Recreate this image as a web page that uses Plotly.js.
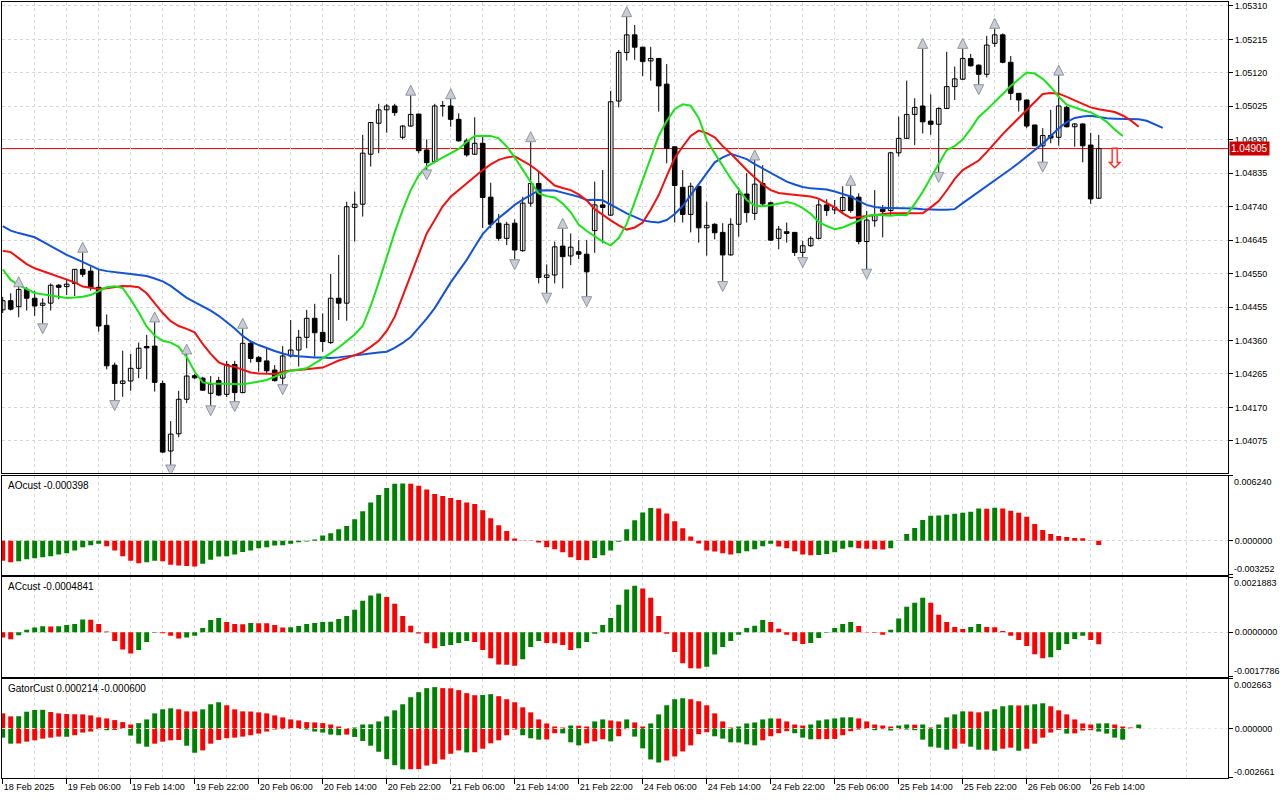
<!DOCTYPE html>
<html>
<head>
<meta charset="utf-8">
<script src="https://cdn.plot.ly/plotly-3.0.1.min.js"></script>
<style>html,body{margin:0;padding:0;background:#fff;}#chart{width:1280px;height:800px;}</style>
</head>
<body>
<div id="chart"></div>
<script>
// ---------- DATA (H1 bars) ----------
const timeLabels = ['18 Feb 2025','19 Feb 06:00','19 Feb 14:00','19 Feb 22:00','20 Feb 06:00','20 Feb 14:00','20 Feb 22:00','21 Feb 06:00','21 Feb 14:00','21 Feb 22:00','24 Feb 06:00','24 Feb 14:00','24 Feb 22:00','25 Feb 06:00','25 Feb 14:00','25 Feb 22:00','26 Feb 06:00','26 Feb 14:00'];
const timeLabelBars = [0,8,16,24,32,40,48,56,64,72,80,88,96,104,112,120,128,136];
const priceTicks = [1.05310,1.05215,1.05120,1.05025,1.04930,1.04835,1.04740,1.04645,1.04550,1.04455,1.04360,1.04265,1.04170,1.04075];

const open = [
1.04447,1.04473,1.04456,1.04505,1.04480,1.04460,1.04466,1.04517,1.04513,1.04522,
1.04562,1.04557,1.04511,1.04403,1.04290,1.04238,1.04245,1.04281,1.04343,1.04344,
1.04238,1.04046,1.04095,1.04193,1.04260,1.04253,1.04210,1.04246,1.04207,1.04292,
1.04212,1.04352,1.04312,1.04302,1.04276,1.04253,1.04316,1.04333,1.04369,1.04423,
1.04383,1.04354,1.04480,1.04466,1.04738,1.04747,1.04889,1.04977,1.05015,1.05026,
1.04937,1.04969,1.05003,1.04901,1.04868,1.05027,1.05026,1.04988,1.04927,1.04889,
1.04920,1.04767,1.04693,1.04650,1.04693,1.04615,1.04750,1.04806,1.04539,1.04546,
1.04628,1.04600,1.04612,1.04605,1.04672,1.04745,1.04716,1.05040,1.05178,1.05228,
1.05193,1.05154,1.05161,1.05088,1.04910,1.04795,1.04718,1.04798,1.04680,1.04690,
1.04667,1.04603,1.04690,1.04776,1.04721,1.04806,1.04751,1.04650,1.04669,1.04667,
1.04610,1.04629,1.04650,1.04745,1.04731,1.04729,1.04770,1.04767,1.04641,1.04700,
1.04733,1.04729,1.04893,1.04934,1.05002,1.05026,1.04983,1.04974,1.05019,1.05081,
1.05102,1.05161,1.05142,1.05116,1.05204,1.05228,1.05150,1.05062,1.05043,1.04972,
1.04913,1.04942,1.04937,1.05022,1.04967,1.04975,1.04915,1.04764];
const high = [
1.04484,1.04494,1.04513,1.04511,1.04501,1.04480,1.04522,1.04520,1.04532,1.04563,
1.04611,1.04570,1.04563,1.04434,1.04297,1.04331,1.04322,1.04354,1.04376,1.04413,
1.04246,1.04131,1.04217,1.04322,1.04265,1.04257,1.04259,1.04257,1.04302,1.04302,
1.04395,1.04359,1.04316,1.04338,1.04290,1.04344,1.04418,1.04390,1.04447,1.04464,
1.04437,1.04549,1.04603,1.04754,1.04783,1.04944,1.04980,1.05032,1.05032,1.05032,
1.04972,1.05057,1.05004,1.04931,1.05032,1.05040,1.05047,1.05005,1.04934,1.04994,
1.04941,1.04808,1.04719,1.04697,1.04704,1.04768,1.04925,1.04839,1.04576,1.04641,
1.04679,1.04664,1.04645,1.04645,1.04811,1.04844,1.05069,1.05185,1.05280,1.05256,
1.05193,1.05194,1.05161,1.05145,1.04910,1.04844,1.04808,1.04799,1.04754,1.04693,
1.04693,1.04707,1.04795,1.04835,1.04873,1.04858,1.04754,1.04685,1.04695,1.04667,
1.04643,1.04656,1.04761,1.04761,1.04759,1.04798,1.04801,1.04778,1.04728,1.04787,
1.04745,1.04896,1.04996,1.05098,1.05048,1.05190,1.05059,1.05022,1.05180,1.05138,
1.05190,1.05174,1.05144,1.05225,1.05247,1.05232,1.05168,1.05062,1.05043,1.04972,
1.04963,1.05015,1.05114,1.05026,1.04977,1.04977,1.04950,1.04944];
const low = [
1.04438,1.04445,1.04426,1.04445,1.04430,1.04407,1.04445,1.04477,1.04489,1.04486,
1.04540,1.04501,1.04385,1.04278,1.04189,1.04200,1.04217,1.04253,1.04250,1.04215,
1.04041,1.04006,1.04085,1.04182,1.04250,1.04217,1.04174,1.04202,1.04199,1.04186,
1.04210,1.04297,1.04271,1.04265,1.04243,1.04234,1.04312,1.04286,1.04338,1.04314,
1.04328,1.04350,1.04418,1.04416,1.04641,1.04712,1.04854,1.04892,1.04950,1.04998,
1.04931,1.04967,1.04892,1.04844,1.04863,1.04996,1.04967,1.04925,1.04882,1.04887,
1.04679,1.04679,1.04643,1.04631,1.04589,1.04612,1.04740,1.04522,1.04494,1.04522,
1.04508,1.04574,1.04591,1.04484,1.04609,1.04636,1.04714,1.05022,1.05155,1.05157,
1.05111,1.05098,1.05010,1.04863,1.04695,1.04695,1.04667,1.04638,1.04601,1.04647,
1.04527,1.04601,1.04655,1.04695,1.04702,1.04740,1.04643,1.04619,1.04638,1.04600,
1.04595,1.04626,1.04647,1.04714,1.04719,1.04721,1.04723,1.04633,1.04562,1.04683,
1.04653,1.04716,1.04882,1.04932,1.04915,1.04948,1.04944,1.04837,1.05017,1.05043,
1.05100,1.05138,1.05086,1.05107,1.05194,1.05147,1.05043,1.05010,1.04963,1.04912,
1.04866,1.04920,1.04913,1.04965,1.04910,1.04866,1.04748,1.04762];
const close = [
1.04473,1.04449,1.04505,1.04480,1.04458,1.04466,1.04517,1.04511,1.04520,1.04562,
1.04548,1.04511,1.04401,1.04288,1.04238,1.04245,1.04281,1.04338,1.04339,1.04241,
1.04043,1.04094,1.04193,1.04259,1.04254,1.04219,1.04236,1.04205,1.04292,1.04212,
1.04352,1.04309,1.04300,1.04274,1.04246,1.04316,1.04333,1.04369,1.04423,1.04382,
1.04357,1.04480,1.04466,1.04740,1.04747,1.04892,1.04979,1.05015,1.05026,1.05007,
1.04969,1.05002,1.04899,1.04865,1.05026,1.05026,1.04988,1.04927,1.04887,1.04920,
1.04766,1.04690,1.04650,1.04690,1.04617,1.04750,1.04806,1.04539,1.04546,1.04626,
1.04598,1.04625,1.04605,1.04555,1.04745,1.04738,1.05038,1.05178,1.05228,1.05193,
1.05152,1.05161,1.05083,1.04906,1.04800,1.04718,1.04798,1.04680,1.04687,1.04666,
1.04603,1.04690,1.04776,1.04723,1.04804,1.04748,1.04645,1.04676,1.04664,1.04610,
1.04629,1.04650,1.04745,1.04729,1.04738,1.04766,1.04729,1.04641,1.04702,1.04716,
1.04726,1.04893,1.04934,1.05002,1.05022,1.04981,1.04974,1.05019,1.05081,1.05103,
1.05161,1.05140,1.05116,1.05199,1.05228,1.05150,1.05062,1.05043,1.04969,1.04913,
1.04942,1.04935,1.05026,1.04967,1.04975,1.04913,1.04762,1.04905];

// Alligator (already shifted forward: jaw +8, teeth +5, lips +3)
const jaw = [
1.04685,1.04672,1.04665,1.04660,1.04653,1.04641,1.04628,1.04616,1.04603,1.04593,
1.04582,1.04572,1.04562,1.04557,1.04555,1.04552,1.04549,1.04546,1.04543,1.04536,
1.04528,1.04515,1.04498,1.04481,1.04469,1.04457,1.04445,1.04430,1.04413,1.04394,
1.04373,1.04357,1.04347,1.04338,1.04330,1.04323,1.04317,1.04315,1.04313,1.04312,
1.04312,1.04310,1.04312,1.04315,1.04319,1.04322,1.04325,1.04326,1.04328,1.04339,
1.04353,1.04370,1.04396,1.04422,1.04452,1.04489,1.04525,1.04557,1.04589,1.04626,
1.04662,1.04687,1.04708,1.04726,1.04745,1.04760,1.04773,1.04786,1.04787,1.04786,
1.04780,1.04775,1.04768,1.04759,1.04760,1.04758,1.04746,1.04732,1.04721,1.04711,
1.04701,1.04697,1.04695,1.04702,1.04719,1.04742,1.04773,1.04806,1.04837,1.04866,
1.04880,1.04890,1.04883,1.04875,1.04861,1.04849,1.04836,1.04823,1.04811,1.04803,
1.04796,1.04792,1.04790,1.04789,1.04783,1.04776,1.04769,1.04756,1.04745,1.04739,
1.04736,1.04736,1.04736,1.04736,1.04735,1.04733,1.04731,1.04731,1.04731,1.04733,
1.04750,1.04766,1.04782,1.04797,1.04813,1.04829,1.04847,1.04864,1.04882,1.04901,
1.04919,1.04941,1.04963,1.04980,1.04992,1.04996,1.04998,1.04995,1.04991,1.04990,
1.04990,1.04989,1.04988,1.04984,1.04975,1.04964];
const teeth = [
1.04615,1.04611,1.04594,1.04577,1.04565,1.04557,1.04550,1.04542,1.04534,1.04525,
1.04513,1.04509,1.04506,1.04508,1.04512,1.04515,1.04514,1.04511,1.04494,1.04466,
1.04438,1.04415,1.04401,1.04393,1.04383,1.04350,1.04322,1.04298,1.04289,1.04285,
1.04276,1.04269,1.04266,1.04265,1.04265,1.04271,1.04275,1.04276,1.04278,1.04280,
1.04283,1.04293,1.04303,1.04310,1.04319,1.04327,1.04342,1.04359,1.04387,1.04427,
1.04486,1.04545,1.04604,1.04664,1.04702,1.04741,1.04768,1.04787,1.04806,1.04826,
1.04844,1.04860,1.04873,1.04880,1.04883,1.04870,1.04857,1.04840,1.04819,1.04800,
1.04793,1.04787,1.04775,1.04758,1.04733,1.04716,1.04701,1.04687,1.04675,1.04681,
1.04695,1.04731,1.04773,1.04827,1.04878,1.04911,1.04941,1.04956,1.04949,1.04937,
1.04912,1.04891,1.04867,1.04844,1.04823,1.04803,1.04787,1.04779,1.04776,1.04773,
1.04772,1.04769,1.04763,1.04750,1.04738,1.04721,1.04708,1.04711,1.04714,1.04716,
1.04720,1.04721,1.04721,1.04721,1.04721,1.04721,1.04738,1.04756,1.04786,1.04819,
1.04844,1.04857,1.04871,1.04895,1.04922,1.04946,1.04969,1.04992,1.05015,1.05037,
1.05060,1.05063,1.05061,1.05052,1.05042,1.05030,1.05022,1.05017,1.05013,1.05009,
1.04999,1.04985,1.04967];
const lips = [
1.04562,1.04532,1.04517,1.04505,1.04495,1.04491,1.04487,1.04484,1.04481,1.04482,
1.04484,1.04489,1.04501,1.04511,1.04514,1.04509,1.04476,1.04440,1.04399,1.04374,
1.04359,1.04354,1.04342,1.04313,1.04271,1.04241,1.04238,1.04238,1.04238,1.04237,
1.04236,1.04239,1.04243,1.04248,1.04257,1.04267,1.04274,1.04278,1.04281,1.04295,
1.04309,1.04324,1.04340,1.04359,1.04377,1.04401,1.04458,1.04525,1.04598,1.04667,
1.04731,1.04787,1.04829,1.04854,1.04867,1.04880,1.04893,1.04904,1.04924,1.04941,
1.04941,1.04941,1.04934,1.04911,1.04880,1.04844,1.04810,1.04778,1.04770,1.04766,
1.04749,1.04724,1.04689,1.04671,1.04655,1.04641,1.04630,1.04651,1.04691,1.04753,
1.04819,1.04881,1.04941,1.04983,1.05017,1.05031,1.05027,1.04992,1.04929,1.04892,
1.04854,1.04820,1.04789,1.04759,1.04743,1.04741,1.04744,1.04748,1.04753,1.04748,
1.04736,1.04720,1.04697,1.04685,1.04676,1.04681,1.04690,1.04700,1.04713,1.04717,
1.04716,1.04714,1.04717,1.04716,1.04748,1.04782,1.04822,1.04861,1.04901,1.04912,
1.04931,1.04961,1.04995,1.05015,1.05039,1.05060,1.05083,1.05103,1.05121,1.05118,
1.05103,1.05080,1.05052,1.05030,1.05021,1.05014,1.05008,1.04996,1.04981,1.04959,
1.04941];

const fractalUpBars = [2,10,19,23,30,51,56,66,70,78,94,106,115,120,124,132];
const fractalDownBars = [5,14,21,26,29,35,53,64,68,73,90,100,108,117,122,130];
const signalBars = [139];
const signalPrices = [1.04870];

const ao = [
-0.001906,-0.002067,-0.001970,-0.001777,-0.001680,-0.001583,-0.001486,-0.001324,-0.001195,-0.000937,
-0.000614,-0.000420,-0.000291,-0.000517,-0.000937,-0.001486,-0.001906,-0.002164,-0.002067,-0.001906,
-0.001970,-0.002293,-0.002358,-0.002423,-0.002455,-0.002196,-0.001809,-0.001518,-0.001486,-0.001324,
-0.001066,-0.000937,-0.000711,-0.000614,-0.000452,-0.000420,-0.000291,-0.000129,-0.000065,0.000129,
0.000517,0.000711,0.001098,0.001421,0.002067,0.002842,0.003682,0.004393,0.005071,0.005459,
0.005491,0.005459,0.005265,0.004910,0.004490,0.004296,0.004102,0.003908,0.003682,0.003521,
0.002939,0.002164,0.001486,0.000937,0.000226,0.000032,-0.000032,-0.000162,-0.000614,-0.000808,
-0.001098,-0.001583,-0.001841,-0.001873,-0.001647,-0.001389,-0.000937,-0.000097,0.001098,0.001970,
0.002713,0.003133,0.003101,0.002616,0.001873,0.001195,0.000420,-0.000258,-0.000937,-0.001034,
-0.001195,-0.001324,-0.001195,-0.001001,-0.000808,-0.000517,-0.000291,-0.000549,-0.000711,-0.001001,
-0.001324,-0.001389,-0.001357,-0.001260,-0.001098,-0.000775,-0.000614,-0.000711,-0.000775,-0.000808,
-0.000824,-0.000711,-0.000032,0.000646,0.001227,0.002003,0.002390,0.002423,0.002487,0.002584,
0.002681,0.002778,0.003101,0.003069,0.003165,0.003101,0.002875,0.002681,0.002293,0.001615,
0.001034,0.000646,0.000452,0.000355,0.000258,0.000242,-0.000016,-0.000398];
const ac = [
-0.000216,-0.000284,-0.000122,0.000095,0.000189,0.000230,0.000223,0.000236,0.000284,0.000324,
0.000500,0.000493,0.000324,0.000027,-0.000351,-0.000689,-0.000851,-0.000716,-0.000392,-0.000027,
-0.000041,-0.000149,-0.000257,-0.000216,-0.000149,0.000162,0.000486,0.000567,0.000405,0.000324,
0.000317,0.000365,0.000358,0.000351,0.000284,0.000189,0.000196,0.000243,0.000324,0.000365,
0.000405,0.000412,0.000527,0.000648,0.000891,0.001256,0.001458,0.001539,0.001404,0.001134,
0.000648,0.000257,-0.000054,-0.000446,-0.000648,-0.000554,-0.000513,-0.000432,-0.000351,-0.000392,
-0.000716,-0.001040,-0.001296,-0.001303,-0.001337,-0.001080,-0.000594,-0.000351,-0.000432,-0.000439,
-0.000513,-0.000716,-0.000648,-0.000392,-0.000068,0.000284,0.000567,0.001094,0.001701,0.001850,
0.001742,0.001377,0.000648,-0.000068,-0.000797,-0.001242,-0.001445,-0.001451,-0.001377,-0.000891,
-0.000594,-0.000351,-0.000108,0.000162,0.000257,0.000486,0.000405,0.000135,-0.000108,-0.000351,
-0.000473,-0.000432,-0.000230,-0.000027,0.000162,0.000324,0.000405,0.000243,-0.000014,-0.000027,
-0.000108,0.000095,0.000540,0.001013,0.001175,0.001377,0.001175,0.000689,0.000405,0.000203,
0.000122,0.000203,0.000324,0.000203,0.000196,0.000041,-0.000149,-0.000311,-0.000554,-0.000878,
-0.001040,-0.000999,-0.000716,-0.000473,-0.000270,-0.000149,-0.000311,-0.0004841];
const gatorUpper = [
0.000815,0.000652,0.000661,0.000905,0.000996,0.001005,0.000887,0.000815,0.000778,0.000769,
0.000760,0.000706,0.000597,0.000543,0.000453,0.000344,0.000217,0.000290,0.000489,0.000815,
0.001032,0.001086,0.001032,0.000923,0.000914,0.001032,0.001303,0.001412,0.001249,0.001032,
0.000923,0.000914,0.000869,0.000815,0.000706,0.000597,0.000489,0.000434,0.000344,0.000326,
0.000290,0.000217,0.000109,0.000018,0.000054,0.000217,0.000226,0.000380,0.000652,0.000977,
0.001303,0.001683,0.001955,0.002172,0.002226,0.002172,0.002163,0.002063,0.001901,0.001792,
0.001801,0.001846,0.001738,0.001575,0.001412,0.001140,0.000869,0.000489,0.000272,0.000109,
0.000054,0.000163,0.000154,0.000109,0.000380,0.000489,0.000434,0.000380,0.000489,0.000326,
0.000109,0.000272,0.000760,0.001249,0.001575,0.001629,0.001575,0.001466,0.001249,0.000815,
0.000380,0.000054,0.000109,0.000272,0.000326,0.000489,0.000543,0.000534,0.000380,0.000217,
0.000163,0.000217,0.000434,0.000489,0.000543,0.000597,0.000606,0.000543,0.000380,0.000217,
0.000163,0.000109,0.000163,0.000217,0.000208,0.000217,0.000054,0.000217,0.000597,0.000760,
0.000923,0.000914,0.000869,0.000923,0.001032,0.001195,0.001249,0.001240,0.001249,0.001303,
0.001358,0.001195,0.000977,0.000760,0.000489,0.000272,0.000217,0.000272,0.000281,0.000217,
0.000109,0.000054,0.000214];
const gatorLower = [
-0.000489,-0.000815,-0.000805,-0.000706,-0.000634,-0.000543,-0.000489,-0.000434,-0.000443,-0.000362,
-0.000217,-0.000163,-0.000036,-0.000091,-0.000081,-0.000018,-0.000380,-0.000815,-0.000977,-0.000815,
-0.000706,-0.000634,-0.000615,-0.000923,-0.001303,-0.001177,-0.000815,-0.000615,-0.000525,-0.000489,
-0.000434,-0.000362,-0.000272,-0.000163,-0.000054,-0.000036,-0.000018,-0.000027,-0.000054,-0.000163,
-0.000217,-0.000326,-0.000362,-0.000326,-0.000453,-0.000670,-0.000923,-0.001249,-0.001647,-0.001973,
-0.002199,-0.002190,-0.002181,-0.001991,-0.001901,-0.001665,-0.001358,-0.001177,-0.001285,-0.001276,
-0.001086,-0.000796,-0.000634,-0.000362,-0.000054,-0.000362,-0.000525,-0.000597,-0.000588,-0.000253,
-0.000262,-0.000742,-0.000905,-0.000796,-0.000688,-0.000579,-0.000688,-0.000416,-0.000036,-0.000434,
-0.001068,-0.001665,-0.001828,-0.001720,-0.001502,-0.001231,-0.000905,-0.000308,-0.000199,-0.000416,
-0.000543,-0.000742,-0.000751,-0.000851,-0.000905,-0.000634,-0.000416,-0.000253,-0.000145,-0.000253,
-0.000489,-0.000579,-0.000576,-0.000570,-0.000561,-0.000362,-0.000145,-0.000054,-0.000018,-0.000091,
-0.000036,-0.000109,-0.000036,-0.000054,-0.000091,-0.000597,-0.000977,-0.001032,-0.001140,-0.001086,
-0.000815,-0.000977,-0.001140,-0.001131,-0.001195,-0.001086,-0.001032,-0.001195,-0.001086,-0.000815,
-0.000489,-0.000217,-0.000072,-0.000272,-0.000262,-0.000109,-0.000091,-0.000163,-0.000272,-0.000489,
-0.000600];

const aoRange = [-0.003252, 0.006240];
const acRange = [-0.0017786, 0.0021883];
const gatorRange = [-0.002661, 0.002663];

// ---------- BUILD ----------
const GREEN = '#008000', RED = '#ff0000';
const GRID = '#d6d6d6';
const FONT = 'Liberation Sans, Arial, sans-serif';
const AXFONT = {family: FONT, size: 9, color: '#000'};
const seq = n => Array.from({length: n}, (_, i) => i);
function trendColors(v, useAbs) {
  return v.map((_, i) => {
    const j = Math.max(i, 1);
    const a = useAbs ? Math.abs(v[j]) : v[j];
    const b = useAbs ? Math.abs(v[j - 1]) : v[j - 1];
    return a > b ? GREEN : RED;
  });
}

const bars = seq(close.length);
const wickX = [], wickY = [];
bars.forEach(i => { wickX.push(i, i, null); wickY.push(low[i], high[i], null); });
const bodyBase = bars.map(i => Math.min(open[i], close[i]));
const bodyLen = bars.map(i => Math.max(Math.abs(close[i] - open[i]), 0.000008));
const bodyColor = bars.map(i => close[i] >= open[i] ? '#ffffff' : '#000000');
const arrowOffset = 0.00028;

const traces = [
  {type:'scatter', mode:'lines', x:wickX, y:wickY, line:{color:'#000', width:1}, xaxis:'x', yaxis:'y', hoverinfo:'skip'},
  {type:'bar', x:bars, y:bodyLen, base:bodyBase, width:0.58, marker:{color:bodyColor, line:{color:'#000', width:1}}, xaxis:'x', yaxis:'y', hoverinfo:'skip'},
  {type:'scatter', mode:'lines', x:seq(jaw.length), y:jaw, line:{color:'#1452d6', width:2}, xaxis:'x', yaxis:'y', hoverinfo:'skip'},
  {type:'scatter', mode:'lines', x:seq(teeth.length), y:teeth, line:{color:'#f21010', width:2}, xaxis:'x', yaxis:'y', hoverinfo:'skip'},
  {type:'scatter', mode:'lines', x:seq(lips.length), y:lips, line:{color:'#18e418', width:2}, xaxis:'x', yaxis:'y', hoverinfo:'skip'},
  {type:'scatter', mode:'markers', x:fractalUpBars, y:fractalUpBars.map(i => high[i] + arrowOffset),
   marker:{symbol:'arrow-up', size:10, color:'#c9ccd3', line:{color:'#8f96a3', width:1}}, xaxis:'x', yaxis:'y', hoverinfo:'skip'},
  {type:'scatter', mode:'markers', x:fractalDownBars, y:fractalDownBars.map(i => low[i] - arrowOffset),
   marker:{symbol:'arrow-down', size:10, color:'#c9ccd3', line:{color:'#8f96a3', width:1}}, xaxis:'x', yaxis:'y', hoverinfo:'skip'},
  {type:'scatter', mode:'text', x:signalBars, y:signalPrices, text:signalBars.map(() => '⇩'),
   textfont:{family:'DejaVu Sans', size:28, color:'#ff2a2a'}, xaxis:'x', yaxis:'y', hoverinfo:'skip'},
  {type:'bar', x:seq(ao.length), y:ao, width:0.62, marker:{color:trendColors(ao, false)}, xaxis:'x2', yaxis:'y2', hoverinfo:'skip'},
  {type:'bar', x:seq(ac.length), y:ac, width:0.62, marker:{color:trendColors(ac, false)}, xaxis:'x3', yaxis:'y3', hoverinfo:'skip'},
  {type:'bar', x:seq(gatorUpper.length), y:gatorUpper, width:0.62, marker:{color:trendColors(gatorUpper, true)}, xaxis:'x4', yaxis:'y4', hoverinfo:'skip'},
  {type:'bar', x:seq(gatorLower.length), y:gatorLower, width:0.62, marker:{color:trendColors(gatorLower, true)}, xaxis:'x4', yaxis:'y4', hoverinfo:'skip'}
];

const xRange = [-0.0875, 153.16];
function xAxis(anchor, bottom) {
  return {
    anchor: anchor, range: xRange, fixedrange: true,
    tickmode: 'array', tickvals: timeLabelBars, ticktext: bottom ? timeLabels : timeLabels.map(() => ''),
    showticklabels: bottom, ticks: bottom ? 'outside' : '', ticklen: 5, tickcolor: '#000',
    ticklabelposition: 'outside right', tickangle: 0, ticklabeloverflow: 'allow',
    tickfont: AXFONT,
    showgrid: true, gridcolor: GRID, griddash: '3px,3px', gridwidth: 1,
    minor: {tickmode: 'linear', tick0: 4, dtick: 8, showgrid: true, gridcolor: GRID, griddash: '3px,3px', gridwidth: 1, ticks: ''},
    showline: true, mirror: true, linecolor: '#000', linewidth: 1, zeroline: false
  };
}
function yAxis(domain, range, tickvals, ticktext, anchor) {
  return {
    domain: domain, range: range, anchor: anchor, side: 'right', fixedrange: true,
    tickmode: 'array', tickvals: tickvals, ticktext: ticktext,
    ticks: 'outside', ticklen: 4, tickcolor: '#000',
    tickfont: AXFONT,
    showgrid: true, gridcolor: GRID, griddash: '3px,3px', gridwidth: 1,
    showline: true, mirror: true, linecolor: '#000', linewidth: 1, zeroline: false
  };
}

const dMain = [0.39343, 1], dAO = [0.26198, 0.38956], dAC = [0.13054, 0.25863], dG = [0, 0.12758];
const lastClose = close[close.length - 1];

const edgeLabel = (yref, val, digits, top) => ({
  xref: 'paper', x: 1, xanchor: 'left', xshift: 4, yref: yref, y: val, yanchor: top ? 'top' : 'bottom',
  yshift: top ? 1 : -1, text: val.toFixed(digits), showarrow: false, font: AXFONT
});
const panelTitle = (domTop, text) => ({
  xref: 'paper', x: 0, xanchor: 'left', xshift: 4, yref: 'paper', y: domTop, yanchor: 'top', yshift: -2,
  text: text, showarrow: false, font: {family: FONT, size: 10, color: '#000'}
});

const layout = {
  width: 1280, height: 800,
  margin: {l: 2, r: 52, t: 2, b: 22, pad: 0},
  paper_bgcolor: '#ffffff', plot_bgcolor: '#ffffff',
  showlegend: false, barmode: 'overlay', hovermode: false,
  font: {family: FONT, size: 10, color: '#000'},
  xaxis: xAxis('y', false),
  xaxis2: xAxis('y2', false),
  xaxis3: xAxis('y3', false),
  xaxis4: xAxis('y4', true),
  yaxis: yAxis(dMain, [1.039845, 1.053213], priceTicks, priceTicks.map(v => v.toFixed(5)), 'x'),
  yaxis2: yAxis(dAO, aoRange, [aoRange[1], 0, aoRange[0]], ['', '0.000000', ''], 'x2'),
  yaxis3: yAxis(dAC, acRange, [acRange[1], 0, acRange[0]], ['', '0.0000000', ''], 'x3'),
  yaxis4: yAxis(dG, gatorRange, [gatorRange[1], 0, gatorRange[0]], ['', '0.000000', ''], 'x4'),
  shapes: [
    {type: 'line', xref: 'paper', x0: 0, x1: 1, yref: 'y', y0: lastClose, y1: lastClose,
     line: {color: '#e00000', width: 1}, layer: 'below'},
    {type: 'line', xref: 'paper', x0: 0, x1: 1, yref: 'y4', y0: 0, y1: 0,
     line: {color: '#e6e6e6', width: 1, dash: '3px,3px'}, layer: 'above'}
  ],
  annotations: [
    {xref: 'paper', x: 1, xanchor: 'left', xshift: 1, yref: 'y', y: lastClose, yanchor: 'middle',
     text: lastClose.toFixed(5), showarrow: false, bgcolor: '#cc0000', borderpad: 1,
     font: {family: FONT, size: 10, color: '#ffffff'}},
    edgeLabel('y2', aoRange[1], 6, true), edgeLabel('y2', aoRange[0], 6, false),
    edgeLabel('y3', acRange[1], 7, true), edgeLabel('y3', acRange[0], 7, false),
    edgeLabel('y4', gatorRange[1], 6, true), edgeLabel('y4', gatorRange[0], 6, false),
    panelTitle(dAO[1], 'AOcust ' + ao[ao.length - 1].toFixed(6)),
    panelTitle(dAC[1], 'ACcust ' + ac[ac.length - 1].toFixed(7)),
    panelTitle(dG[1], 'GatorCust ' + gatorUpper[gatorUpper.length - 1].toFixed(6) + ' ' + gatorLower[gatorLower.length - 1].toFixed(6))
  ]
};

Plotly.newPlot('chart', traces, layout, {staticPlot: true, displayModeBar: false, responsive: false});
</script>
</body>
</html>
